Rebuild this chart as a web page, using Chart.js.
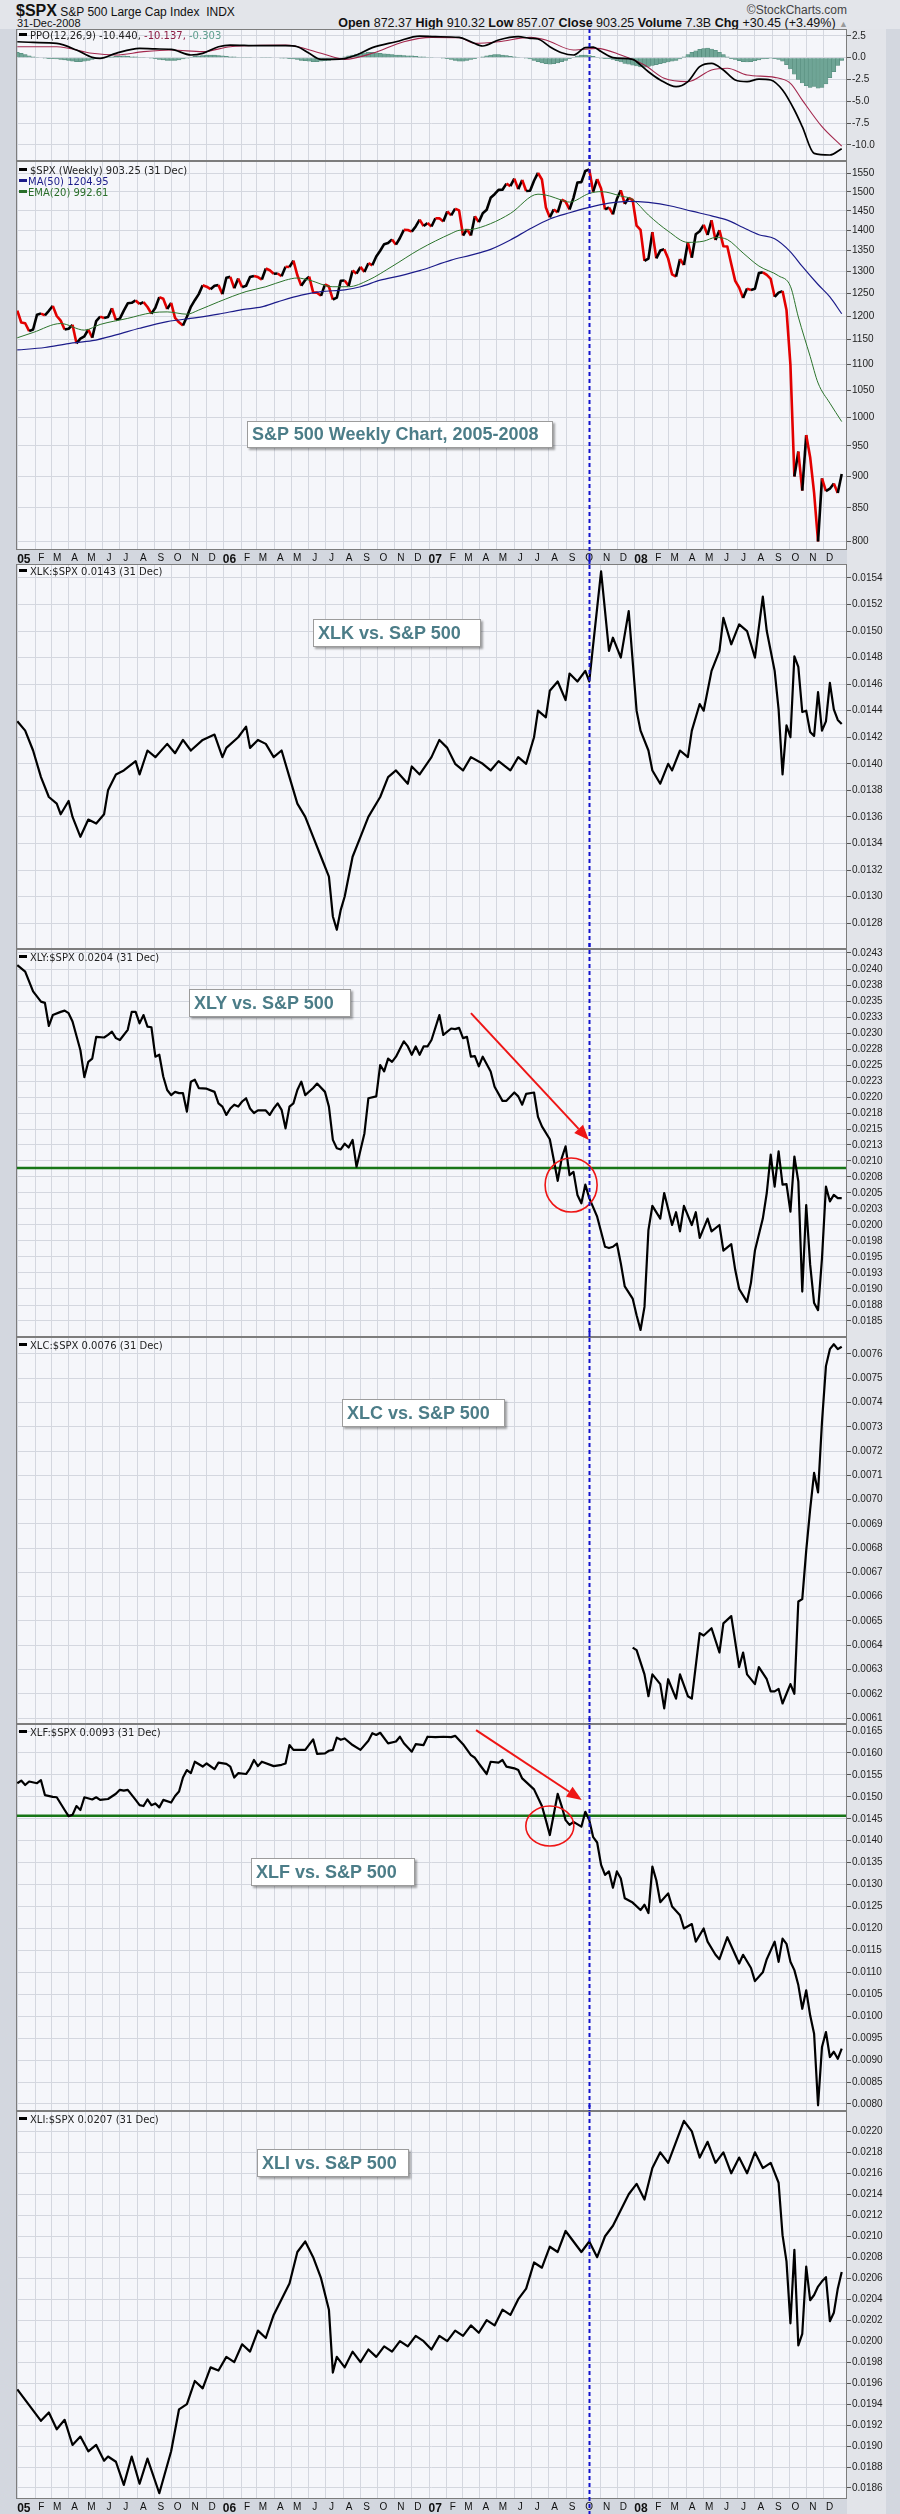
<!DOCTYPE html>
<html>
<head>
<meta charset="utf-8">
<title>S&amp;P 500 Weekly Chart, 2005-2008</title>
<script src="https://cdn.jsdelivr.net/npm/chart.js"></script>
<style>
  html, body { margin: 0; padding: 0; }
  body { width: 900px; height: 2514px; position: relative; overflow: hidden;
         background: #d3d7df; font-family: "Liberation Sans", Arial, sans-serif; }
  .strip { position: absolute; }
  .cv { position: absolute; left: 16px; }
  .hdr { position: absolute; white-space: nowrap; color: #111;
         font-family: "Liberation Sans Narrow", "Liberation Sans", Arial, sans-serif; }
  .legend { position: absolute; left: 19px; font: 10px "DejaVu Sans", sans-serif; color: #222;
            white-space: nowrap; line-height: 11px; }
  .legend i { display: inline-block; width: 8px; height: 3px; vertical-align: 3px; margin-right: 3px; }
  .note { position: absolute; background: #fff; border: 1px solid #9c9c9c; box-sizing: border-box;
          box-shadow: 2px 2px 2px rgba(0,0,0,0.35); color: #4c7d88; white-space: nowrap;
          font: bold 18px "Liberation Sans", Arial, sans-serif; padding-left: 4px; }
</style>
</head>
<body>
<div class="strip" style="left:0;top:0;width:900px;height:29px;background:#e3e5ea"></div>
<div class="strip" style="left:847px;top:29px;width:39px;height:2485px;background:#e2e4e9"></div>

<div class="hdr" style="left:16px;top:2px;font-size:12px"><b style="font-size:16px">$SPX</b> S&amp;P 500 Large Cap Index&nbsp; INDX</div>
<div class="hdr" style="left:17px;top:17px;font-size:11px">31-Dec-2008</div>
<div class="hdr" style="right:53px;top:3px;font-size:12px;color:#444">&copy;StockCharts.com</div>
<div class="hdr" style="right:52px;top:16px;font-size:12.5px"><b>Open</b> 872.37 <b>High</b> 910.32 <b>Low</b> 857.07 <b>Close</b> 903.25 <b>Volume</b> 7.3B <b>Chg</b> +30.45 (+3.49%) <span style="color:#999;font-size:9px">&#9650;</span></div>

<div id="charts"></div>

<div class="legend" style="top:30px;z-index:5"><i style="background:#000"></i>PPO(12,26,9) -10.440, <span style="color:#8e1f45">-10.137,</span> <span style="color:#5f9f8f">-0.303</span></div>
<div class="legend" style="top:165px;z-index:5"><i style="background:#000"></i>$SPX (Weekly) 903.25 (31 Dec)<br><span style="color:#1c1c8a"><i style="background:#1c1c8a;margin-right:1px"></i>MA(50) 1204.95</span><br><span style="color:#2a6f2a"><i style="background:#2a6f2a;margin-right:1px"></i>EMA(20) 992.61</span></div>
<div class="legend" style="top:566px;z-index:5"><i style="background:#000"></i>XLK:$SPX 0.0143 (31 Dec)</div>
<div class="legend" style="top:952px;z-index:5"><i style="background:#000"></i>XLY:$SPX 0.0204 (31 Dec)</div>
<div class="legend" style="top:1340px;z-index:5"><i style="background:#000"></i>XLC:$SPX 0.0076 (31 Dec)</div>
<div class="legend" style="top:1727px;z-index:5"><i style="background:#000"></i>XLF:$SPX 0.0093 (31 Dec)</div>
<div class="legend" style="top:2114px;z-index:5"><i style="background:#000"></i>XLI:$SPX 0.0207 (31 Dec)</div>

<div class="note" style="left:247px;top:421px;width:306px;height:27px;line-height:25px;z-index:5">S&amp;P 500 Weekly Chart, 2005-2008</div>
<div class="note" style="left:313px;top:619px;width:168px;height:28px;line-height:26px;z-index:5">XLK vs. S&amp;P 500</div>
<div class="note" style="left:189px;top:989px;width:162px;height:28px;line-height:26px;z-index:5">XLY vs. S&amp;P 500</div>
<div class="note" style="left:342px;top:1399px;width:163px;height:28px;line-height:26px;z-index:5">XLC vs. S&amp;P 500</div>
<div class="note" style="left:251px;top:1858px;width:164px;height:28px;line-height:26px;z-index:5">XLF vs. S&amp;P 500</div>
<div class="note" style="left:257px;top:2149px;width:152px;height:28px;line-height:26px;z-index:5">XLI vs. S&amp;P 500</div>

<script>
// weekly closes, first bar = week of 31-Dec-2004, last bar = 31-Dec-2008
const spxClose = [
  1211.92,
  1186.19, 1184.52, 1167.87, 1171.36, 1203.03, 1205.30, 1201.59, 1211.37, 1222.12, 1200.08, 1190.21, 1171.42, 1172.92,
  1181.20, 1142.62, 1152.12, 1156.85, 1171.35, 1154.05, 1189.28, 1198.78, 1196.02, 1198.11, 1216.96, 1191.57, 1194.44,
  1211.86, 1227.92, 1229.03, 1234.18, 1226.42, 1230.39, 1219.71, 1205.10, 1218.02, 1241.48, 1237.91, 1215.29, 1228.81,
  1195.90, 1186.57, 1179.59, 1198.41, 1220.14, 1234.72, 1248.27, 1268.25, 1265.08, 1259.37, 1267.32, 1268.66, 1248.29,
  1285.45, 1287.61, 1261.49, 1283.72, 1264.03, 1266.99, 1287.24, 1289.43, 1287.23, 1281.42, 1307.25, 1302.95, 1294.83,
  1295.50, 1289.12, 1311.28, 1310.61, 1325.76, 1291.24, 1267.03, 1280.16, 1288.22, 1252.30, 1251.54, 1244.50, 1270.20,
  1265.48, 1236.20, 1240.29, 1278.55, 1279.36, 1266.74, 1302.30, 1295.09, 1311.01, 1298.92, 1319.66, 1314.78, 1335.85,
  1349.59, 1365.62, 1368.60, 1377.34, 1364.30, 1380.90, 1401.20, 1400.95, 1396.71, 1409.84, 1427.09, 1410.76, 1418.30,
  1409.71, 1430.73, 1430.50, 1422.18, 1448.39, 1438.06, 1455.54, 1451.19, 1387.17, 1402.84, 1386.95, 1436.11, 1420.86,
  1443.76, 1452.85, 1484.35, 1494.07, 1505.62, 1505.85, 1522.75, 1515.73, 1536.34, 1507.67, 1532.91, 1502.56, 1503.35,
  1530.44, 1552.50, 1534.10, 1458.95, 1433.06, 1453.64, 1445.94, 1479.37, 1473.99, 1453.55, 1484.25, 1525.75, 1526.75,
  1557.59, 1561.80, 1500.63, 1535.28, 1509.65, 1453.70, 1458.74, 1440.70, 1481.14, 1504.66, 1467.95, 1484.46, 1478.49,
  1411.63, 1401.02, 1325.19, 1330.61, 1395.42, 1331.29, 1349.99, 1353.11, 1330.63, 1293.37, 1288.14, 1329.51, 1315.22,
  1370.40, 1332.83, 1390.33, 1397.84, 1413.90, 1388.28, 1425.35, 1375.93, 1400.38, 1360.68, 1360.03, 1317.93, 1278.38,
  1262.90, 1239.49, 1260.68, 1257.76, 1260.31, 1296.32, 1298.20, 1292.20, 1282.83, 1242.31, 1251.70, 1255.08, 1213.27,
  1099.23, 899.22, 940.55, 876.77, 968.75, 930.99, 873.29, 800.03, 896.24, 876.07, 879.73, 887.88, 872.80, 903.25
];

// moving averages at these weeks
const ma50Weeks = [0, 7, 13, 19, 25, 31, 38, 45, 51, 57, 62, 66, 72, 77, 83, 87, 92, 97, 102, 110, 115, 120, 125, 130, 135, 140, 145, 150, 155, 160, 166, 171, 176, 180, 184, 188, 192, 196, 199, 203, 206, 209];
const ma50Values = [1129, 1134, 1142, 1148, 1160, 1174, 1188, 1196, 1204, 1214, 1220, 1231, 1246, 1254, 1258, 1265, 1280, 1290, 1302, 1327, 1339, 1353, 1376, 1404, 1429, 1445, 1459, 1470, 1475, 1472, 1462, 1449, 1437, 1426, 1407, 1389, 1379, 1347, 1312, 1270, 1242, 1205];
const ema20Weeks = [0, 4, 11, 17, 21, 28, 34, 38, 43, 46, 51, 58, 63, 68, 71, 74, 80, 84, 89, 95, 102, 110, 112, 115, 120, 125, 132, 135, 138, 140, 145, 148, 153, 156, 160, 165, 170, 174, 177, 180, 184, 188, 193, 196, 198, 201, 203, 206, 209];
const ema20Values = [1154, 1165, 1184, 1170, 1182, 1195, 1207, 1209, 1204, 1213, 1231, 1254, 1265, 1280, 1285, 1280, 1265, 1265, 1280, 1312, 1353, 1392, 1400, 1402, 1417, 1443, 1494, 1489, 1478, 1473, 1496, 1501, 1489, 1480, 1439, 1398, 1370, 1373, 1382, 1377, 1344, 1313, 1290, 1266, 1198, 1116, 1064, 1026, 992.6];

// PPO(12,26,9)
const ppoWeeks = [0, 4, 10, 15, 19, 21, 25, 31, 35, 39, 44, 47, 51, 54, 61, 68, 71, 74, 77, 80, 83, 86, 90, 96, 102, 106, 112, 115, 118, 122, 127, 130, 132, 135, 138, 141, 144, 146, 148, 151, 156, 157, 160, 163, 167, 170, 173, 176, 179, 182, 185, 188, 191, 194, 197, 199, 202, 206, 209];
const ppoValues = [1.83, 1.75, 1.64, 0.88, 0.04, -0.08, 0.5, 1.07, 1.0, 0.96, 0.31, 0.5, 1.26, 1.45, 1.38, 1.38, 1.26, 0.5, -0.19, -0.19, -0.1, 0.31, 1.15, 1.83, 2.48, 2.41, 2.33, 1.83, 1.34, 2.03, 2.41, 2.22, 2.14, 1.26, 0.57, 0.31, 1.15, 1.2, 0.7, 0.0, -0.19, -0.46, -1.61, -2.56, -3.33, -2.75, -1.03, -0.65, -1.41, -2.56, -2.75, -2.45, -2.56, -3.71, -6.0, -7.91, -10.97, -11.16, -10.44];
const signalWeeks = [0, 10, 19, 25, 32, 39, 47, 54, 68, 77, 83, 90, 98, 105, 112, 116, 122, 130, 134, 141, 147, 153, 159, 164, 170, 176, 180, 185, 192, 196, 199, 204, 209];
const signalValues = [1.26, 1.26, 0.5, 0.31, 0.69, 0.88, 0.69, 1.26, 1.45, 0.5, -0.19, 0.5, 1.83, 2.33, 2.29, 1.64, 1.83, 2.33, 2.03, 0.88, 1.07, 0.31, -0.84, -2.37, -2.75, -1.41, -1.22, -1.99, -2.26, -2.94, -4.86, -7.91, -10.14];
const ppoHist = [
  0.6, 0.5, 0.35, 0.2, 0.1, 0.05, 0, -0.05, -0.1, -0.1, -0.15, -0.2, -0.25, -0.3,
  -0.4, -0.45, -0.45, -0.4, -0.3, -0.2, -0.1, 0, 0.05, 0.1, 0.1, 0.15,
  0.15, 0.2, 0.15, 0.1, 0.1, 0.05, 0.05, 0, -0.05, -0.1, -0.2, -0.25, -0.3, -0.3,
  -0.3, -0.25, -0.15, -0.05, 0.05, 0.15, 0.2, 0.25, 0.3, 0.3, 0.3, 0.25, 0.2, 0.15, 0.1, 0.1, 0.05,
  0.05, 0.05, 0.05, 0, 0, 0.05, 0.05, 0.05, 0, 0, -0.05, -0.05, -0.1, -0.15, -0.2,
  -0.3, -0.35, -0.4, -0.45, -0.45, -0.4, -0.35, -0.3, -0.2, -0.1, 0, 0.1,
  0.2, 0.3, 0.4, 0.5, 0.55, 0.6, 0.6, 0.55, 0.5, 0.45, 0.4, 0.35, 0.3, 0.3,
  0.25, 0.2, 0.2, 0.15, 0.1, 0.1, 0.05, 0.05, 0, 0,
  -0.05, -0.1, -0.2, -0.3, -0.4, -0.4, -0.3, -0.2, -0.1, 0,
  0.1, 0.2, 0.3, 0.35, 0.35, 0.3, 0.25, 0.15, 0.1, 0.05, 0, -0.05, -0.15, -0.3,
  -0.45, -0.6, -0.7, -0.75, -0.7, -0.6, -0.45, -0.3, -0.1, 0.05,
  0.2, 0.3, 0.3, 0.25, 0.15, 0.05, -0.05, -0.1, -0.1, -0.2, -0.35,
  -0.5, -0.65, -0.75, -0.85, -0.95, -1.05, -1.1, -1.0, -0.9, -0.8, -0.7, -0.6, -0.5, -0.4, -0.3, -0.15,
  0.1, 0.35, 0.6, 0.8, 0.95, 1.05, 1.1, 1.0, 0.85, 0.6, 0.35,
  0.1, -0.1, -0.2, -0.35, -0.45, -0.5, -0.45, -0.35, -0.25, -0.15, -0.1, -0.05, -0.1, -0.2, -0.4,
  -0.8, -1.3, -1.9, -2.5, -2.9, -3.2, -3.4, -3.3, -3.5, -3.4, -3.0, -2.3, -1.6, -0.9, -0.3
];

// ratio charts
const xlkWeeks = [0, 2, 4, 6, 8, 10, 11, 13, 14, 16, 18, 20, 22, 23, 25, 27, 30, 31, 33, 35, 38, 40, 42, 44, 47, 50, 52, 53, 56, 58, 59, 61, 63, 65, 67, 69, 71, 73, 75, 77, 79, 80, 81, 82, 83, 85, 87, 89, 92, 94, 96, 99, 100, 102, 105, 107, 109, 111, 113, 115, 118, 120, 122, 125, 127, 129, 131, 132, 134, 135, 137, 139, 140, 142, 144, 145, 146, 148, 150, 151, 153, 155, 157, 158, 160, 161, 163, 165, 166, 168, 170, 171, 173, 174, 176, 178, 179, 181, 183, 185, 187, 189, 190, 192, 193, 194, 195, 196, 197, 198, 199, 200, 201, 202, 203, 204, 205, 206, 207, 208, 209];
const xlkValues = [0.01432, 0.01425, 0.01410, 0.01390, 0.01375, 0.01370, 0.01362, 0.01372, 0.01360, 0.01345, 0.01358, 0.01355, 0.01362, 0.01380, 0.01392, 0.01395, 0.01402, 0.01392, 0.01410, 0.01405, 0.01415, 0.01408, 0.01418, 0.01410, 0.01418, 0.01422, 0.01405, 0.01412, 0.01420, 0.01428, 0.01412, 0.01418, 0.01415, 0.01405, 0.01410, 0.01390, 0.01370, 0.01360, 0.01345, 0.01330, 0.01315, 0.01285, 0.01275, 0.01290, 0.01300, 0.01330, 0.01345, 0.01360, 0.01375, 0.01390, 0.01395, 0.01385, 0.01398, 0.01392, 0.01405, 0.01418, 0.01412, 0.01400, 0.01395, 0.01405, 0.01400, 0.01395, 0.01402, 0.01395, 0.01405, 0.01400, 0.01420, 0.01440, 0.01435, 0.01455, 0.01462, 0.01448, 0.01468, 0.01462, 0.01470, 0.01462, 0.01490, 0.01545, 0.01485, 0.01495, 0.01480, 0.01515, 0.01440, 0.01425, 0.01410, 0.01395, 0.01385, 0.01400, 0.01395, 0.01410, 0.01405, 0.01425, 0.01445, 0.01440, 0.01470, 0.01485, 0.01510, 0.01490, 0.01505, 0.01500, 0.01480, 0.01526, 0.01500, 0.01470, 0.01441, 0.01392, 0.01429, 0.01420, 0.01481, 0.01473, 0.01439, 0.01440, 0.01424, 0.01421, 0.01454, 0.01425, 0.01432, 0.01461, 0.01441, 0.01433, 0.01430];

const xlyWeeks = [0, 2, 4, 6, 7, 8, 9, 11, 12, 13, 14, 16, 17, 18, 19, 20, 22, 23, 24, 25, 26, 28, 29, 30, 31, 32, 33, 34, 35, 36, 37, 38, 39, 40, 41, 42, 43, 44, 45, 46, 48, 50, 51, 52, 53, 54, 55, 56, 57, 58, 59, 60, 61, 63, 64, 65, 66, 67, 68, 69, 70, 71, 72, 73, 75, 76, 78, 79, 80, 81, 82, 83, 84, 85, 86, 88, 89, 91, 92, 93, 94, 95, 96, 98, 99, 100, 101, 102, 103, 104, 105, 107, 108, 110, 111, 112, 113, 114, 115, 116, 117, 118, 120, 121, 123, 124, 126, 127, 128, 129, 131, 132, 133, 135, 136, 137, 138, 139, 140, 141, 142, 143, 144, 145, 147, 149, 150, 151, 152, 153, 154, 156, 157, 158, 159, 160, 161, 163, 164, 166, 167, 168, 169, 171, 172, 173, 175, 176, 178, 179, 181, 182, 183, 185, 186, 187, 189, 190, 191, 192, 193, 194, 195, 196, 197, 198, 199, 200, 201, 202, 203, 204, 205, 206, 207, 208, 209];
const xlyValues = [0.02406, 0.02396, 0.02365, 0.02349, 0.02347, 0.02311, 0.02328, 0.02333, 0.02335, 0.02331, 0.02318, 0.02273, 0.02231, 0.02255, 0.02260, 0.02294, 0.02293, 0.02297, 0.02302, 0.02292, 0.02289, 0.02305, 0.02333, 0.02333, 0.02315, 0.02328, 0.02310, 0.02309, 0.02263, 0.02266, 0.02232, 0.02211, 0.02203, 0.02208, 0.02206, 0.02206, 0.02177, 0.02224, 0.02227, 0.02214, 0.02213, 0.02208, 0.02190, 0.02185, 0.02172, 0.02182, 0.02188, 0.02185, 0.02193, 0.02198, 0.02182, 0.02175, 0.02179, 0.02179, 0.02172, 0.02182, 0.02190, 0.02180, 0.02151, 0.02185, 0.02190, 0.02211, 0.02224, 0.02203, 0.02214, 0.02221, 0.02208, 0.02185, 0.02133, 0.02120, 0.02118, 0.02127, 0.02121, 0.02133, 0.02091, 0.02143, 0.02198, 0.02201, 0.02250, 0.02240, 0.02260, 0.02255, 0.02263, 0.02287, 0.02279, 0.02266, 0.02279, 0.02266, 0.02279, 0.02279, 0.02289, 0.02328, 0.02297, 0.02307, 0.02306, 0.02308, 0.02292, 0.02294, 0.02263, 0.02264, 0.02248, 0.02263, 0.02240, 0.02216, 0.02194, 0.02194, 0.02207, 0.02201, 0.02188, 0.02205, 0.02207, 0.02169, 0.02154, 0.02134, 0.02102, 0.02069, 0.02104, 0.02123, 0.02078, 0.02083, 0.02047, 0.02034, 0.02063, 0.02042, 0.02013, 0.01966, 0.01964, 0.01966, 0.01971, 0.01940, 0.01904, 0.01885, 0.01859, 0.01836, 0.01872, 0.01992, 0.02030, 0.02010, 0.02050, 0.02000, 0.02020, 0.01990, 0.02030, 0.02000, 0.02020, 0.01980, 0.02010, 0.01990, 0.02000, 0.01960, 0.01970, 0.01930, 0.01900, 0.01880, 0.01910, 0.01960, 0.02010, 0.02050, 0.02110, 0.02060, 0.02115, 0.02063, 0.02064, 0.02021, 0.02107, 0.02068, 0.01896, 0.02031, 0.01938, 0.01878, 0.01867, 0.01948, 0.02060, 0.02037, 0.02047, 0.02042, 0.02042];

const xlcWeeks = [156, 157, 159, 160, 161, 163, 164, 165, 167, 168, 170, 171, 173, 174, 176, 178, 179, 181, 183, 184, 185, 187, 188, 190, 191, 192, 193, 194, 195, 196, 197, 198, 199, 200, 201, 202, 203, 204, 205, 206, 207, 208, 209];
const xlcValues = [0.00639, 0.00638, 0.00628, 0.00619, 0.00628, 0.00624, 0.00614, 0.00626, 0.00618, 0.00628, 0.00619, 0.00618, 0.00645, 0.00644, 0.00647, 0.00637, 0.00649, 0.00652, 0.00631, 0.00637, 0.00628, 0.00624, 0.00631, 0.00626, 0.00621, 0.00621, 0.00622, 0.00616, 0.00620, 0.00624, 0.00620, 0.00658, 0.00659, 0.00679, 0.00696, 0.00711, 0.00703, 0.00732, 0.00755, 0.00762, 0.00764, 0.00762, 0.00763];

const xlfWeeks = [0, 1, 2, 3, 5, 6, 7, 9, 10, 12, 13, 14, 15, 16, 17, 19, 20, 21, 23, 25, 26, 27, 28, 30, 31, 32, 33, 34, 35, 36, 37, 39, 40, 41, 42, 43, 44, 45, 47, 48, 50, 51, 53, 54, 55, 56, 58, 59, 60, 61, 62, 65, 67, 68, 69, 70, 73, 75, 76, 78, 79, 80, 81, 82, 83, 85, 87, 89, 90, 91, 92, 94, 96, 97, 98, 100, 101, 103, 104, 106, 108, 110, 111, 113, 115, 116, 117, 119, 120, 122, 123, 124, 126, 127, 128, 131, 133, 134, 135, 137, 138, 139, 140, 141, 143, 144, 145, 146, 147, 148, 149, 150, 151, 152, 153, 154, 156, 158, 159, 160, 161, 162, 163, 165, 166, 168, 169, 171, 172, 174, 175, 177, 178, 180, 181, 183, 184, 186, 187, 189, 190, 192, 193, 194, 195, 196, 197, 198, 199, 200, 201, 202, 203, 204, 205, 206, 207, 208, 209];
const xlfValues = [0.01531, 0.01537, 0.01527, 0.01535, 0.01531, 0.01538, 0.01504, 0.01500, 0.01499, 0.01470, 0.01456, 0.01459, 0.01479, 0.01470, 0.01499, 0.01494, 0.01499, 0.01493, 0.01495, 0.01507, 0.01516, 0.01514, 0.01516, 0.01493, 0.01481, 0.01479, 0.01494, 0.01481, 0.01485, 0.01476, 0.01493, 0.01487, 0.01502, 0.01512, 0.01544, 0.01561, 0.01554, 0.01580, 0.01569, 0.01576, 0.01563, 0.01578, 0.01575, 0.01569, 0.01544, 0.01554, 0.01552, 0.01565, 0.01584, 0.01570, 0.01580, 0.01570, 0.01573, 0.01576, 0.01618, 0.01607, 0.01607, 0.01631, 0.01598, 0.01599, 0.01605, 0.01607, 0.01635, 0.01630, 0.01633, 0.01618, 0.01607, 0.01628, 0.01645, 0.01641, 0.01646, 0.01622, 0.01626, 0.01637, 0.01622, 0.01603, 0.01620, 0.01618, 0.01637, 0.01636, 0.01637, 0.01636, 0.01639, 0.01620, 0.01595, 0.01589, 0.01576, 0.01552, 0.01580, 0.01578, 0.01584, 0.01569, 0.01565, 0.01561, 0.01542, 0.01517, 0.01479, 0.01447, 0.01413, 0.01507, 0.01479, 0.01447, 0.01436, 0.01443, 0.01432, 0.01466, 0.01447, 0.01408, 0.01396, 0.01345, 0.01322, 0.01330, 0.01293, 0.01330, 0.01314, 0.01269, 0.01259, 0.01242, 0.01254, 0.01235, 0.01341, 0.01310, 0.01260, 0.01280, 0.01250, 0.01230, 0.01200, 0.01210, 0.01170, 0.01200, 0.01170, 0.01140, 0.01130, 0.01180, 0.01160, 0.01120, 0.01140, 0.01110, 0.01080, 0.01100, 0.01130, 0.01170, 0.01124, 0.01177, 0.01165, 0.01124, 0.01105, 0.01071, 0.01017, 0.01059, 0.01002, 0.00960, 0.00797, 0.00930, 0.00964, 0.00907, 0.00919, 0.00903, 0.00926];

const xliWeeks = [0, 3, 6, 8, 10, 12, 14, 16, 18, 20, 22, 23, 25, 27, 29, 31, 33, 36, 39, 41, 43, 45, 47, 49, 51, 53, 55, 57, 59, 61, 63, 65, 67, 69, 71, 73, 75, 77, 79, 80, 81, 83, 85, 87, 89, 91, 93, 95, 97, 99, 101, 103, 105, 107, 109, 111, 113, 115, 117, 119, 121, 123, 125, 127, 129, 131, 133, 135, 137, 139, 141, 143, 145, 147, 149, 151, 153, 155, 157, 159, 161, 163, 165, 167, 169, 171, 173, 175, 177, 179, 181, 183, 185, 187, 189, 191, 193, 194, 195, 196, 197, 198, 199, 200, 201, 202, 203, 204, 205, 206, 207, 208, 209];
const xliValues = [0.01954, 0.01939, 0.01924, 0.01932, 0.01916, 0.01925, 0.01901, 0.01909, 0.01895, 0.01901, 0.01886, 0.01890, 0.01885, 0.01863, 0.01890, 0.01864, 0.01888, 0.01855, 0.01895, 0.01935, 0.01940, 0.01962, 0.01955, 0.01975, 0.01972, 0.01985, 0.01980, 0.01997, 0.01990, 0.02010, 0.02003, 0.02025, 0.02040, 0.02055, 0.02085, 0.02095, 0.02080, 0.02060, 0.02030, 0.01970, 0.01985, 0.01975, 0.01990, 0.01980, 0.01992, 0.01985, 0.01995, 0.01990, 0.02000, 0.01995, 0.02005, 0.02000, 0.01992, 0.02005, 0.02000, 0.02010, 0.02005, 0.02015, 0.02008, 0.02020, 0.02015, 0.02030, 0.02025, 0.02040, 0.02050, 0.02075, 0.02070, 0.02090, 0.02085, 0.02105, 0.02095, 0.02085, 0.02095, 0.02080, 0.02100, 0.02110, 0.02125, 0.02140, 0.02150, 0.02135, 0.02165, 0.02180, 0.02170, 0.02190, 0.02210, 0.02200, 0.02175, 0.02190, 0.02170, 0.02180, 0.02160, 0.02175, 0.02160, 0.02180, 0.02165, 0.02170, 0.02151, 0.02101, 0.02076, 0.02017, 0.02087, 0.01996, 0.02007, 0.02071, 0.02039, 0.02044, 0.02052, 0.02057, 0.02061, 0.02019, 0.02027, 0.02050, 0.02066];

// axis ticks
const ppoTicks = [2.5, 0, -2.5, -5, -7.5, -10];
const spxTicks = [800, 850, 900, 950, 1000, 1050, 1100, 1150, 1200, 1250, 1300, 1350, 1400, 1450, 1500, 1550];
const xlkTicks = [0.0128, 0.0130, 0.0132, 0.0134, 0.0136, 0.0138, 0.0140, 0.0142, 0.0144, 0.0146, 0.0148, 0.0150, 0.0152, 0.0154];
const xlyTicks = [0.0185, 0.01875, 0.019, 0.01925, 0.0195, 0.01975, 0.02, 0.02025, 0.0205, 0.02075, 0.021, 0.02125, 0.0215, 0.02175, 0.022, 0.02225, 0.0225, 0.02275, 0.023, 0.02325, 0.0235, 0.02375, 0.024, 0.02425];
const xlcTicks = [0.0061, 0.0062, 0.0063, 0.0064, 0.0065, 0.0066, 0.0067, 0.0068, 0.0069, 0.0070, 0.0071, 0.0072, 0.0073, 0.0074, 0.0075, 0.0076];
const xlfTicks = [0.0080, 0.0085, 0.0090, 0.0095, 0.0100, 0.0105, 0.0110, 0.0115, 0.0120, 0.0125, 0.0130, 0.0135, 0.0140, 0.0145, 0.0150, 0.0155, 0.0160, 0.0165];
const xliTicks = [0.0186, 0.0188, 0.0190, 0.0192, 0.0194, 0.0196, 0.0198, 0.0200, 0.0202, 0.0204, 0.0206, 0.0208, 0.0210, 0.0212, 0.0214, 0.0216, 0.0218, 0.0220];
const monthLetters = ['J', 'F', 'M', 'A', 'M', 'J', 'J', 'A', 'S', 'O', 'N', 'D'];

// annotations
const xlyLevel = 0.02089;
const xlfLevel = 0.01457;
const xlyArrow = { weeks: [115, 144.9], values: [0.02331, 0.02133], circleWeek: 140.4, circleValue: 0.020625 };
const xlfArrow = { weeks: [116.3, 143.1], values: [0.01652, 0.014928], circleWeek: 135, circleValue: 0.014335 };

// week positions of month starts (first bar is 31-Dec-2004)
const seriesStart = Date.UTC(2004, 11, 31);
const WEEK = 7 * 864e5;
const markerWeek = (Date.UTC(2007, 9, 12) - seriesStart) / WEEK;
const monthTicks = [], monthLabels = [];
for (let y = 2005; y <= 2008; y++) {
  for (let m = 0; m < 12; m++) {
    monthTicks.push((Date.UTC(y, m, 1) - seriesStart) / WEEK);
    monthLabels.push(m === 0 ? String(y).slice(2) : monthLetters[m]);
  }
}

const plotBg = '#f5f6fa';
const gridColor = '#d4d7df';
const narrow = "'Liberation Sans Narrow', 'Liberation Sans', Arial, sans-serif";

function toXY(xs, ys) { return ys.map((y, i) => ({ x: xs[i], y: y })); }
const ratioFmt = v => (Math.round(v * 10000 + 1e-7) / 10000).toFixed(4);

function decor(opt) {
  return {
    id: 'decor',
    beforeDraw(chart) {
      const { ctx, chartArea: a } = chart;
      ctx.save();
      ctx.fillStyle = plotBg;
      ctx.fillRect(a.left, a.top, a.width, a.height);
      ctx.restore();
    },
    beforeDatasetsDraw(chart) {
      if (opt.level == null) return;
      const { ctx, chartArea: a, scales } = chart;
      const y = scales.y.getPixelForValue(opt.level);
      ctx.save();
      ctx.strokeStyle = '#177517';
      ctx.lineWidth = 2.5;
      ctx.beginPath(); ctx.moveTo(a.left, y); ctx.lineTo(a.right, y); ctx.stroke();
      ctx.restore();
    },
    afterDatasetsDraw(chart) {
      const ar = opt.arrow;
      if (!ar) return;
      const { ctx, scales } = chart;
      const x0 = scales.x.getPixelForValue(ar.weeks[0]), y0 = scales.y.getPixelForValue(ar.values[0]);
      const x1 = scales.x.getPixelForValue(ar.weeks[1]), y1 = scales.y.getPixelForValue(ar.values[1]);
      const ang = Math.atan2(y1 - y0, x1 - x0), c = Math.cos(ang), s = Math.sin(ang);
      const head = 15, half = 6;
      ctx.save();
      ctx.strokeStyle = ctx.fillStyle = '#ee1515';
      ctx.lineWidth = 2;
      ctx.beginPath(); ctx.moveTo(x0, y0); ctx.lineTo(x1 - head * c, y1 - head * s); ctx.stroke();
      ctx.beginPath();
      ctx.moveTo(x1, y1);
      ctx.lineTo(x1 - head * c + half * s, y1 - head * s - half * c);
      ctx.lineTo(x1 - head * c - half * s, y1 - head * s + half * c);
      ctx.closePath(); ctx.fill();
      ctx.lineWidth = 1.6;
      ctx.beginPath();
      ctx.ellipse(scales.x.getPixelForValue(ar.circleWeek), scales.y.getPixelForValue(ar.circleValue), opt.rx, opt.ry, 0, 0, Math.PI * 2);
      ctx.stroke();
      ctx.restore();
    },
    afterDraw(chart) {
      const { ctx, chartArea: a, scales } = chart;
      ctx.save();
      ctx.strokeStyle = '#7d7d7d';
      ctx.lineWidth = 1;
      ctx.strokeRect(Math.round(a.left) + 0.5, Math.round(a.top) + 0.5, Math.round(a.width) - 1, Math.round(a.height) - 1);
      const x = Math.round(scales.x.getPixelForValue(markerWeek)) + 0.5;
      ctx.strokeStyle = '#1212cc';
      ctx.lineWidth = 2;
      ctx.setLineDash([4, 3]);
      ctx.beginPath(); ctx.moveTo(x, opt.first ? a.top : 0); ctx.lineTo(x, chart.height); ctx.stroke();
      ctx.restore();
    }
  };
}

function panel(opt) {
  const pad = 6;
  const axisH = opt.xLabels ? 14 : 0;
  const h = opt.bottom - opt.top + pad * 2 + axisH;
  const cv = document.createElement('canvas');
  cv.className = 'cv';
  cv.width = 884; cv.height = h;
  cv.style.top = (opt.top - pad) + 'px';
  cv.style.width = '884px'; cv.style.height = h + 'px';
  document.getElementById('charts').appendChild(cv);
  return new Chart(cv, {
    type: opt.type || 'line',
    data: { datasets: opt.datasets },
    options: {
      responsive: false,
      animation: false,
      layout: { padding: { top: pad, bottom: pad, left: 0, right: 0 } },
      plugins: { legend: { display: false }, tooltip: { enabled: false } },
      elements: { point: { radius: 0 }, line: { borderJoinStyle: 'round', tension: 0 } },
      scales: {
        x: {
          type: 'linear', min: -0.33, max: 210.34, offset: false,
          afterBuildTicks: s => { s.ticks = monthTicks.map(v => ({ value: v })); },
          afterFit: s => { s.height = axisH; s.paddingLeft = 0; s.paddingRight = 0; },
          grid: { color: gridColor, drawTicks: false, offset: false },
          border: { display: false },
          ticks: {
            display: !!opt.xLabels, autoSkip: false, maxRotation: 0, labelOffset: 6, padding: 2,
            color: '#111',
            font: c => (c.index % 12 === 0
              ? { family: narrow, size: 12, weight: 'bold' }
              : { family: narrow, size: 10, weight: 'normal' }),
            callback: (v, i) => monthLabels[i]
          }
        },
        y: {
          type: opt.log ? 'logarithmic' : 'linear',
          position: 'right', min: opt.min, max: opt.max,
          afterBuildTicks: s => { s.ticks = opt.ticks.map(v => ({ value: v })); },
          afterFit: s => { s.width = 53; s.paddingTop = 0; s.paddingBottom = 0; },
          grid: { color: gridColor, tickLength: 4, tickColor: '#555' },
          border: { display: false },
          ticks: { padding: 1, autoSkip: false, color: '#222', font: { family: "'Liberation Sans', Arial", size: 10 }, callback: opt.fmt }
        }
      }
    },
    plugins: [decor(opt)]
  });
}

const ratioLine = (xs, ys) => ({ data: toXY(xs, ys), borderColor: '#000', borderWidth: 2.2, pointRadius: 0 });

// PPO panel
panel({
  top: 29, bottom: 161, first: true, type: 'bar',
  min: -11.85, max: 3.29, ticks: ppoTicks, fmt: v => v.toFixed(1),
  datasets: [
    { type: 'line', data: toXY(ppoWeeks, ppoValues), borderColor: '#000', borderWidth: 1.7, order: 1,
      cubicInterpolationMode: 'monotone' },
    { type: 'line', data: toXY(signalWeeks, signalValues), borderColor: '#a3284d', borderWidth: 1.1, order: 2,
      cubicInterpolationMode: 'monotone' },
    { type: 'bar', data: ppoHist.map((y, i) => ({ x: i, y: y })), backgroundColor: '#6fa596',
      borderColor: '#4f8576', borderWidth: 0.5, barPercentage: 1, categoryPercentage: 1, order: 3 }
  ]
});

// S&P 500 panel (log scale)
panel({
  top: 161, bottom: 550, xLabels: true, log: true,
  min: 787.9, max: 1585.9, ticks: spxTicks, fmt: v => String(v),
  datasets: [
    { data: toXY(ma50Weeks, ma50Values), borderColor: '#1c1c8a', borderWidth: 1.2, cubicInterpolationMode: 'monotone' },
    { data: toXY(ema20Weeks, ema20Values), borderColor: '#2c742c', borderWidth: 1, cubicInterpolationMode: 'monotone' },
    { data: spxClose.map((y, i) => ({ x: i, y: y })), borderWidth: 2.6, borderColor: '#000',
      segment: { borderColor: c => (c.p1.parsed.y < c.p0.parsed.y ? '#e30000' : '#000') } }
  ]
});

panel({ top: 564, bottom: 949, min: 0.012605, max: 0.015505, ticks: xlkTicks, fmt: ratioFmt,
  datasets: [ratioLine(xlkWeeks, xlkValues)] });

panel({ top: 949, bottom: 1337, min: 0.01825, max: 0.0243125, ticks: xlyTicks, fmt: ratioFmt,
  level: xlyLevel, arrow: xlyArrow, rx: 26, ry: 27,
  datasets: [ratioLine(xlyWeeks, xlyValues)] });

panel({ top: 1337, bottom: 1724, min: 0.0060755, max: 0.00767, ticks: xlcTicks, fmt: ratioFmt,
  datasets: [ratioLine(xlcWeeks, xlcValues)] });

panel({ top: 1724, bottom: 2111, min: 0.00784, max: 0.01666, ticks: xlfTicks, fmt: ratioFmt,
  level: xlfLevel, arrow: xlfArrow, rx: 24, ry: 20,
  datasets: [ratioLine(xlfWeeks, xlfValues)] });

panel({ top: 2111, bottom: 2499, xLabels: true, min: 0.018495, max: 0.022194, ticks: xliTicks, fmt: ratioFmt,
  datasets: [ratioLine(xliWeeks, xliValues)] });
</script>
</body>
</html>
